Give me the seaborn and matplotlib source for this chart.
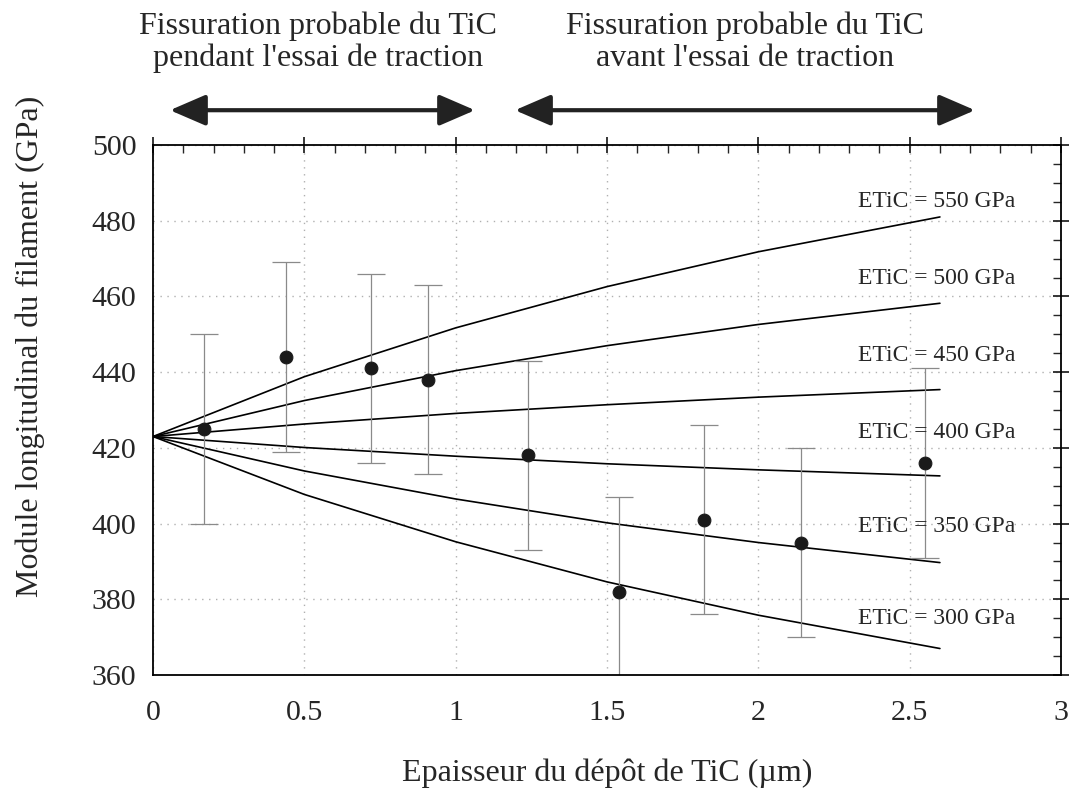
import numpy as np
import pandas as pd
import matplotlib
matplotlib.use("Agg")
import matplotlib.pyplot as plt
from matplotlib.ticker import MultipleLocator, FormatStrFormatter
import seaborn as sns

# mesures (points avec barres d'erreur)
epaisseur = [0.17, 0.44, 0.72, 0.91, 1.24, 1.54, 1.82, 2.14, 2.55]
module = [425, 444, 441, 438, 418, 382, 401, 395, 416]
erreur = [25, 25, 25, 25, 25, 25, 25, 25, 25]

# courbes calculées pour différents modules du TiC
x_courbe = [0, 0.5, 1.0, 1.5, 2.0, 2.6]
E_tic = [550, 500, 450, 400, 350, 300]
courbe_550 = [423, 438.8, 451.7, 462.6, 471.8, 481.0]
courbe_500 = [423, 432.5, 440.4, 447.0, 452.6, 458.2]
courbe_450 = [423, 426.3, 429.1, 431.4, 433.4, 435.4]
courbe_400 = [423, 420.1, 417.8, 415.8, 414.2, 412.6]
courbe_350 = [423, 413.9, 406.5, 400.2, 395.0, 389.7]
courbe_300 = [423, 407.7, 395.2, 384.6, 375.8, 367.0]
courbes = [courbe_550, courbe_500, courbe_450, courbe_400, courbe_350, courbe_300]

df_pts = pd.DataFrame({'e': epaisseur, 'E': module, 'err': erreur})
df_courbes = pd.concat([
    pd.DataFrame({'e': x_courbe, 'E': c, 'Etic': et}) for c, et in zip(courbes, E_tic)
])

sns.set_style("white")
plt.rcParams['font.family'] = ['Liberation Serif', 'DejaVu Serif']

fig = plt.figure(figsize=(10.73, 7.96), dpi=100)
ax = fig.add_axes([0.1426, 0.152, 0.8462, 0.6658])

# courbes
for et in E_tic:
    sub = df_courbes[df_courbes['Etic'] == et]
    sns.lineplot(data=sub, x='e', y='E', ax=ax, color='black', lw=1.2,
                 sort=False, estimator=None)

# barres d'erreur
ax.errorbar(df_pts['e'], df_pts['E'], yerr=df_pts['err'], fmt='none',
            ecolor='#8a8a8a', elinewidth=0.9, capsize=10, capthick=0.9, zorder=2)
sns.scatterplot(data=df_pts, x='e', y='E', ax=ax, color='#1a1a1a', s=85,
                edgecolor='#1a1a1a', zorder=3)

# étiquettes des courbes
label_y = [485, 464.8, 444.5, 424.1, 399.3, 375.0]
for et, yl in zip(E_tic, label_y):
    ax.text(2.33, yl, f'ETiC = {et} GPa', fontsize=17, va='center', ha='left')

ax.set_xlim(0, 3)
ax.set_ylim(360, 500)
ax.xaxis.set_major_locator(MultipleLocator(0.5))
ax.xaxis.set_minor_locator(MultipleLocator(0.1))
ax.yaxis.set_major_locator(MultipleLocator(20))
ax.yaxis.set_minor_locator(MultipleLocator(5))
ax.xaxis.set_major_formatter(FormatStrFormatter('%g'))
ax.grid(True, which='major', color='#b0b0b0', linestyle=(0, (1, 4)), lw=1.0)
ax.tick_params(which='major', direction='inout', length=12, width=1.3,
               top=True, right=True, labelsize=21.5)
ax.tick_params(axis='x', which='major', pad=12)
ax.tick_params(axis='y', which='major', pad=6)
ax.tick_params(which='minor', direction='in', length=6, width=1.0,
               top=True, right=True)
for s in ax.spines.values():
    s.set_linewidth(1.3)
    s.set_color('black')

ax.set_xlabel("Epaisseur du dépôt de TiC (µm)", fontsize=23, va='center')
ax.xaxis.set_label_coords(0.5, -0.185)
ax.set_ylabel("Module longitudinal du filament (GPa)", fontsize=23, va='center')
ax.yaxis.set_label_coords(-0.135, 0.62)

# zones de fissuration
fig.text(0.296, 0.947, "Fissuration probable du TiC\npendant l'essai de traction",
         fontsize=23, ha='center', va='center', linespacing=1.1)
fig.text(0.694, 0.947, "Fissuration probable du TiC\navant l'essai de traction",
         fontsize=23, ha='center', va='center', linespacing=1.1)
arrow = dict(arrowstyle='<|-|>,head_length=2.2,head_width=0.95', lw=3, color='#222222',
             shrinkA=0, shrinkB=0)
ax.annotate('', xy=(1.064, 509.2), xytext=(0.056, 509.2), arrowprops=arrow,
            annotation_clip=False)
ax.annotate('', xy=(2.716, 509.2), xytext=(1.196, 509.2), arrowprops=arrow,
            annotation_clip=False)

fig.savefig('out.png', dpi=100)
